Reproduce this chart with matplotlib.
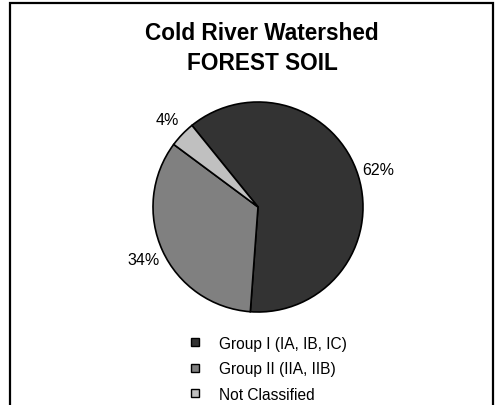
import matplotlib
matplotlib.use("Agg")
import matplotlib.pyplot as plt
from matplotlib.lines import Line2D
from matplotlib.patches import Rectangle

plt.rcParams['font.family'] = ['Liberation Sans', 'DejaVu Sans']

categories = ["Group I (IA, IB, IC)", "Group II (IIA, IIB)", "Not Classified"]
shares = [62, 34, 4]
colors = ["#333333", "#808080", "#c0c0c0"]
title_lines = ["Cold River Watershed", "FOREST SOIL"]

W, H = 497, 406
fig = plt.figure(figsize=(W / 100, H / 100), dpi=100)

# outer chart frame (bottom edge runs past the canvas)
fig.patches.append(Rectangle((10 / W, -0.05), 483 / W, 1.05 - 4 / H,
                             transform=fig.transFigure, fill=False,
                             edgecolor="black", linewidth=1.6))

# pie axes: centre (258, 208) px, radius 105 px
cx, cy, r = 258, 208, 105
ax = fig.add_axes([(cx - r) / W, (H - cy - r) / H, 2 * r / W, 2 * r / H])
ax.pie(shares, colors=colors, startangle=129, counterclock=False,
       autopct='%.0f%%', pctdistance=1.2,
       wedgeprops=dict(edgecolor="black", linewidth=1.2),
       textprops=dict(fontsize=11.5, color="black"))
ax.set_xlim(-1, 1)
ax.set_ylim(-1, 1)
ax.set_aspect("equal")
ax.axis("off")

fig.text(262 / W, 1 - 33 / H, title_lines[0], ha="center", va="center",
         fontsize=16.3, fontweight="bold")
fig.text(262 / W, 1 - 63 / H, title_lines[1], ha="center", va="center",
         fontsize=16.3, fontweight="bold")

handles = [Line2D([], [], linestyle="none", marker="s", markersize=6,
                  markerfacecolor=c, markeredgecolor="black",
                  markeredgewidth=1.0) for c in colors]
fig.legend(handles, categories, loc="upper left",
           bbox_to_anchor=(179 / W, 1 - 329 / H), frameon=False,
           fontsize=11.2, handlelength=1.0, handletextpad=1.05,
           labelspacing=0.68, borderpad=0)

fig.savefig("out.png", dpi=100)
